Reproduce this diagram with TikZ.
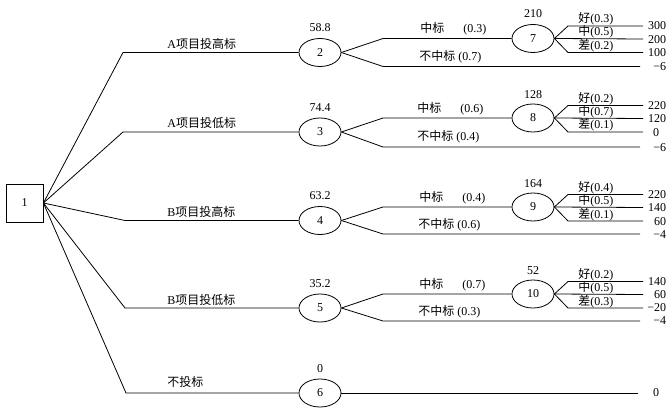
\documentclass[tikz,border=0pt]{standalone}
\usepackage{fontspec}
\setmainfont{Liberation Serif}
\newfontfamily\cjk{Noto Sans CJK SC}
\usetikzlibrary{shapes.geometric}
\begin{document}
\begin{tikzpicture}[x=1pt,y=-1pt,line width=0.8pt,
  every node/.style={font=\fontsize{12}{14}\selectfont,inner sep=1pt},
  decbox/.style={draw,rectangle,minimum width=37pt,minimum height=38pt,inner sep=0pt},
  chance/.style={draw,ellipse,minimum width=42pt,minimum height=28pt,inner sep=0pt},
  lbl/.style={anchor=base west},
  val/.style={anchor=east,inner sep=0.5pt},
  ev/.style={anchor=south}]
\useasboundingbox (0,0) rectangle (671,414);

% decision node
\node[decbox] (n1) at (24.5,203) {1};

% first-level chance nodes
\node[chance] (n2) at (320,52.5) {2};
\node[chance] (n3) at (320,132) {3};
\node[chance] (n4) at (320,220.5) {4};
\node[chance] (n5) at (320,308) {5};
\node[chance] (n6) at (320,393) {6};

% second-level chance nodes
\node[chance] (n7) at (533,38.5) {7};
\node[chance] (n8) at (533,118) {8};
\node[chance] (n9) at (533,207) {9};
\node[chance] (n10) at (533,294) {10};

% expected values
\node[ev] (t2) at ([yshift=5pt]n2.north) {58.8};
\node[ev] (t3) at ([yshift=5pt]n3.north) {74.4};
\node[ev] (t4) at ([yshift=5pt]n4.north) {63.2};
\node[ev] (t5) at ([yshift=5pt]n5.north) {35.2};
\node[ev] (t6) at ([yshift=5pt]n6.north) {0};
\node[ev] (t7) at ([yshift=5pt]n7.north) {210};
\node[ev] (t8) at ([yshift=4pt]n8.north) {128};
\node[ev] (t9) at ([yshift=4pt]n9.north) {164};
\node[ev] (t10) at ([yshift=4pt]n10.north) {52};

% main branches
\coordinate (e2) at (123,52.5);
\coordinate (e3) at (123,132);
\coordinate (e4) at (125,220.5);
\coordinate (e5) at (125,308);
\coordinate (e6) at (126,393);
\draw (n1.east) -- (e2) -- (n2);
\draw (n1.east) -- (e3) -- (n3);
\draw (n1.east) -- (e4) -- (n4);
\draw (n1.east) -- (e5) -- (n5);
\draw (n1.east) -- (e6) -- (n6);
\node[lbl] (l2) at (166,48.5) {A{\cjk 项目投高标}};
\node[lbl] (l3) at (166,128) {A{\cjk 项目投低标}};
\node[lbl] (l4) at (166,216.5) {B{\cjk 项目投高标}};
\node[lbl] (l5) at (166,304) {B{\cjk 项目投低标}};
\node[lbl] (l6) at (166,386.5) {{\cjk 不投标}};

% chance branches (win / lose)
\coordinate (u2) at (383,38.5);  \coordinate (d2) at (383,66.5);  \coordinate (z2) at (640,66.5);
\coordinate (u3) at (383,118);   \coordinate (d3) at (383,147);   \coordinate (z3) at (640,147);
\coordinate (u4) at (383,207);   \coordinate (d4) at (383,234);   \coordinate (z4) at (640,234);
\coordinate (u5) at (383,294);   \coordinate (d5) at (383,321);   \coordinate (z5) at (640,321);
\coordinate (z6) at (638,393);
\draw (n2.east) -- (u2) -- (n7.west);  \draw (n2.east) -- (d2) -- (z2);
\draw (n3.east) -- (u3) -- (n8.west);  \draw (n3.east) -- (d3) -- (z3);
\draw (n4.east) -- (u4) -- (n9.west);  \draw (n4.east) -- (d4) -- (z4);
\draw (n5.east) -- (u5) -- (n10.west); \draw (n5.east) -- (d5) -- (z5);
\draw (n6.east) -- (z6);

\node[lbl] (w2) at (419,33) {{\cjk 中标}};  \node[lbl] (p2) at (462,33) {(0.3)};
\node[lbl] (w3) at (416,112.5) {{\cjk 中标}};  \node[lbl] (p3) at (459,112.5) {(0.6)};
\node[lbl] (w4) at (418,201.5) {{\cjk 中标}};  \node[lbl] (p4) at (461,201.5) {(0.4)};
\node[lbl] (w5) at (418,288.5) {{\cjk 中标}};  \node[lbl] (p5) at (461,288.5) {(0.7)};
\node[lbl] (f2) at (418,60.5) {{\cjk 不中标} (0.7)};
\node[lbl] (f3) at (416,141) {{\cjk 不中标} (0.4)};
\node[lbl] (f4) at (417,228) {{\cjk 不中标} (0.6)};
\node[lbl] (f5) at (417,315) {{\cjk 不中标} (0.3)};

% outcome branches
\foreach \n/\y in {7/38.5, 8/118, 9/207, 10/294} {
  \draw (n\n.east) -- (568,\y-12.5) -- (643,\y-12.5);
  \draw (n\n.east) -- (643,\y+0.5);
  \draw (n\n.east) -- (568,\y+14) -- (643,\y+14);
}
% outcome labels
\node[lbl] (g7) at (577,23) {{\cjk 好}(0.3)};
\node[lbl] (m7) at (577,36) {{\cjk 中}(0.5)};
\node[lbl] (b7) at (577,49.5) {{\cjk 差}(0.2)};
\node[lbl] (g8) at (577,102.5) {{\cjk 好}(0.2)};
\node[lbl] (m8) at (577,115.5) {{\cjk 中}(0.7)};
\node[lbl] (b8) at (577,129) {{\cjk 差}(0.1)};
\node[lbl] (g9) at (577,191.5) {{\cjk 好}(0.4)};
\node[lbl] (m9) at (577,204.5) {{\cjk 中}(0.5)};
\node[lbl] (b9) at (577,218) {{\cjk 差}(0.1)};
\node[lbl] (g10) at (577,278.5) {{\cjk 好}(0.2)};
\node[lbl] (m10) at (577,291.5) {{\cjk 中}(0.5)};
\node[lbl] (b10) at (577,305) {{\cjk 差}(0.3)};

% payoffs
\node[val] (v71) at (667,26) {300};
\node[val] (v72) at (667,39.5) {200};
\node[val] (v73) at (667,53) {100};
\node[val] (v74) at (667,67) {−6};
\node[val] (v81) at (667,106) {220};
\node[val] (v82) at (667,119) {120};
\node (v83) at (656,133) {0};
\node[val] (v84) at (667,148) {−6};
\node[val] (v91) at (667,195) {220};
\node[val] (v92) at (667,208) {140};
\node[val] (v93) at (667,221.5) {60};
\node[val] (v94) at (667,234.5) {−4};
\node[val] (v101) at (667,282) {140};
\node[val] (v102) at (667,294.5) {60};
\node[val] (v103) at (667,307.5) {−20};
\node[val] (v104) at (667,321) {−4};
\node (v6) at (656,393) {0};
\end{tikzpicture}
\end{document}
